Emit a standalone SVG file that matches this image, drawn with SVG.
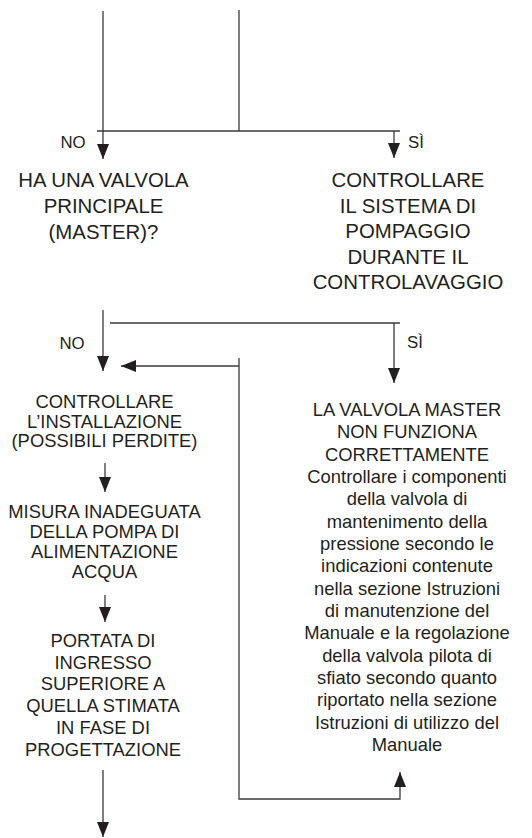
<svg xmlns="http://www.w3.org/2000/svg" width="532" height="838" viewBox="0 0 532 838">
<style>
.ln{fill:none;stroke:#3a3a3a;stroke-width:1.3}
.ar{marker-end:url(#ah)}
text{font-family:"Liberation Sans",Arial,sans-serif;fill:#231f20;text-anchor:middle}
.big{font-size:20.4px}
.sm{font-size:18.4px}
.lb{font-size:16.8px}
</style>
<defs>
<marker id="ah" markerUnits="userSpaceOnUse" markerWidth="16" markerHeight="12" refX="15" refY="6" orient="auto">
<path d="M0,0 L15,6 L0,12 z" fill="#231f20"/>
</marker>
</defs>
<g id="connectors">
<path class="ln" d="M239,10 V131"/>
<path class="ln" d="M97,131 H400"/>
<path class="ln ar" d="M103,11 V159"/>
<path class="ln ar" d="M394,131 V158"/>
<path class="ln ar" d="M103,310 V371"/>
<path class="ln" d="M110,323 H400"/>
<path class="ln ar" d="M394,323 V383"/>
<path class="ln ar" d="M239,366 H121"/>
<path class="ln ar" d="M239,358 V799 H400 V772"/>
<path class="ln ar" d="M105,463 V492"/>
<path class="ln ar" d="M105,595 V622"/>
<path class="ln ar" d="M103,770 V837"/>
</g>
<g id="labels">
<text class="lb" x="73" y="148">NO</text>
<text class="lb" x="416" y="148">SÌ</text>
<text class="lb" x="72" y="349">NO</text>
<text class="lb" x="415" y="348">SÌ</text>
</g>
<g id="q-master">
<text class="big" x="103.5" y="187">HA UNA VALVOLA</text>
<text class="big" x="103.5" y="213">PRINCIPALE</text>
<text class="big" x="103.5" y="239">(MASTER)?</text>
</g>
<g id="check-pumping">
<text class="big" x="408" y="187">CONTROLLARE</text>
<text class="big" x="408" y="212.5">IL SISTEMA DI</text>
<text class="big" x="408" y="238">POMPAGGIO</text>
<text class="big" x="408" y="263.5">DURANTE IL</text>
<text class="big" x="408" y="289">CONTROLAVAGGIO</text>
</g>
<g id="check-install">
<text class="sm" x="104.5" y="408">CONTROLLARE</text>
<text class="sm" x="104.5" y="427.5">L’INSTALLAZIONE</text>
<text class="sm" x="104.5" y="447">(POSSIBILI PERDITE)</text>
</g>
<g id="pump-size">
<text class="sm" x="104.5" y="518">MISURA INADEGUATA</text>
<text class="sm" x="104.5" y="538">DELLA POMPA DI</text>
<text class="sm" x="104.5" y="558">ALIMENTAZIONE</text>
<text class="sm" x="104.5" y="578">ACQUA</text>
</g>
<g id="flow-rate">
<text class="sm" x="103" y="647">PORTATA DI</text>
<text class="sm" x="103" y="668.7">INGRESSO</text>
<text class="sm" x="103" y="690.4">SUPERIORE A</text>
<text class="sm" x="103" y="712.1">QUELLA STIMATA</text>
<text class="sm" x="103" y="733.8">IN FASE DI</text>
<text class="sm" x="103" y="755.5">PROGETTAZIONE</text>
</g>
<g id="master-fault">
<text class="sm" x="407" y="416">LA VALVOLA MASTER</text>
<text class="sm" x="407" y="438.3">NON FUNZIONA</text>
<text class="sm" x="407" y="460.7">CORRETTAMENTE</text>
<text class="sm" x="407" y="483">Controllare i componenti</text>
<text class="sm" x="407" y="505.3">della valvola di</text>
<text class="sm" x="407" y="527.7">mantenimento della</text>
<text class="sm" x="407" y="550">pressione secondo le</text>
<text class="sm" x="407" y="572.3">indicazioni contenute</text>
<text class="sm" x="407" y="594.7">nella sezione Istruzioni</text>
<text class="sm" x="407" y="617">di manutenzione del</text>
<text class="sm" x="407" y="639.3">Manuale e la regolazione</text>
<text class="sm" x="407" y="661.7">della valvola pilota di</text>
<text class="sm" x="407" y="684">sfiato secondo quanto</text>
<text class="sm" x="407" y="706.3">riportato nella sezione</text>
<text class="sm" x="407" y="728.7">Istruzioni di utilizzo del</text>
<text class="sm" x="407" y="751">Manuale</text>
</g>
</svg>
